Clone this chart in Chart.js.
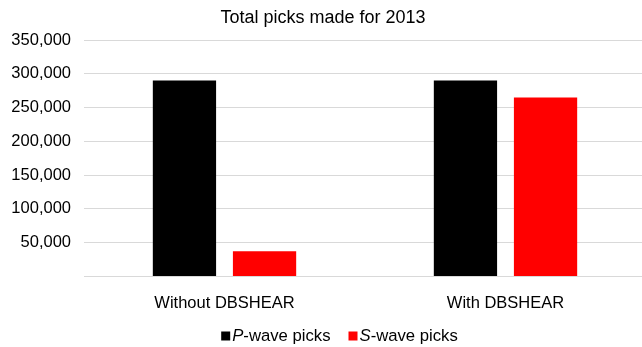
<!DOCTYPE html>
<html>
<head>
<meta charset="utf-8">
<title>Total picks made for 2013</title>
<script src="https://cdn.jsdelivr.net/npm/chart.js@4/dist/chart.umd.min.js"></script>
<style>
  html, body { margin: 0; padding: 0; background: #fff; overflow: hidden; }
  #wrap { width: 642px; height: 347px; overflow: hidden; }
  canvas { display: block; }
</style>
</head>
<body>
<div id="wrap"><canvas id="picksChart" width="646" height="347"></canvas></div>
<script>
// Pick counts per processing setup
const categories = ['Without DBSHEAR', 'With DBSHEAR'];
const pWavePicks = [290000, 290000];
const sWavePicks = [37500, 265000];

// Legend text: the wave letter is set in italics
const legendLetters = ['P', 'S'];
const legendRest = ['-wave picks', '-wave picks'];

const yMax = 350000;
const yStep = 50000;

const FONT = "'Liberation Sans', Arial, sans-serif";
const GRID = '#D9D9D9';

// Draws the legend under the axis labels so the letter can be italic
const italicLegend = {
    id: 'italicLegend',
    afterDraw(chart) {
        const ctx = chart.ctx;
        const size = 16.7;
        const box = 9;
        const y = 336;
        const items = chart.data.datasets.map((ds, i) => {
            ctx.font = 'italic ' + size + 'px ' + FONT;
            const w1 = ctx.measureText(legendLetters[i]).width;
            ctx.font = size + 'px ' + FONT;
            const w2 = ctx.measureText(legendRest[i]).width;
            return { color: ds.backgroundColor, w1, w2, width: box + 2 + w1 + w2 };
        });
        const gap = 18;
        const total = items.reduce((s, it) => s + it.width, 0) + gap * (items.length - 1);
        let x = 339.5 - total / 2;
        ctx.save();
        ctx.textBaseline = 'middle';
        items.forEach((it, i) => {
            ctx.fillStyle = it.color;
            ctx.fillRect(x, y - box / 2, box, box);
            x += box + 2;
            ctx.fillStyle = '#000';
            ctx.font = 'italic ' + size + 'px ' + FONT;
            ctx.fillText(legendLetters[i], x, y);
            x += it.w1;
            ctx.font = size + 'px ' + FONT;
            ctx.fillText(legendRest[i], x, y);
            x += it.w2 + gap;
        });
        ctx.restore();
    }
};

new Chart(document.getElementById('picksChart'), {
    type: 'bar',
    data: {
        labels: categories,
        datasets: [
            {
                label: 'P-wave picks',
                data: pWavePicks,
                backgroundColor: '#000000',
                borderWidth: 0
            },
            {
                label: 'S-wave picks',
                data: sWavePicks,
                backgroundColor: '#FF0000',
                borderWidth: 0
            }
        ]
    },
    options: {
        responsive: false,
        animation: false,
        datasets: {
            bar: {
                categoryPercentage: 0.57,
                barPercentage: 0.79
            }
        },
        layout: {
            padding: { top: 0, left: 0, right: 0, bottom: 34.5 }
        },
        plugins: {
            legend: { display: false },
            tooltip: { enabled: false },
            title: {
                display: true,
                text: 'Total picks made for 2013',
                color: '#000',
                font: { family: FONT, size: 18, weight: 'normal' },
                padding: { top: 7, bottom: 11.4 }
            }
        },
        scales: {
            x: {
                grid: { display: false },
                border: { display: true, color: GRID, width: 1 },
                ticks: {
                    color: '#000',
                    font: { family: FONT, size: 16.5 },
                    padding: 9,
                    maxRotation: 0
                },
                afterFit(scale) { scale.height = 36; }
            },
            y: {
                min: 0,
                max: yMax,
                grid: { color: GRID, lineWidth: 1, drawTicks: false },
                border: { display: false },
                ticks: {
                    stepSize: yStep,
                    color: '#000',
                    font: { family: FONT, size: 16.5 },
                    padding: 13,
                    callback: v => v === 0 ? '' : v.toLocaleString('en-US')
                },
                afterFit(scale) { scale.width = 84; }
            }
        }
    },
    plugins: [italicLegend]
});
</script>
</body>
</html>
